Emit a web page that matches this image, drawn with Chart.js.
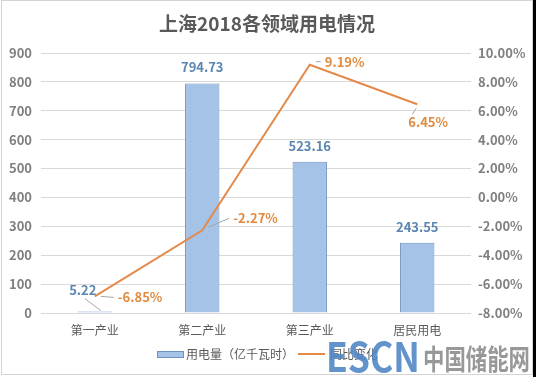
<!DOCTYPE html>
<html>
<head>
<meta charset="utf-8">
<script src="https://cdn.jsdelivr.net/npm/chart.js@4"></script>
<style>
  html, body { margin: 0; padding: 0; background: #000; }
  #chart { display: block; background: #fff; }
</style>
</head>
<body>
<canvas id="chart" width="533" height="377"></canvas>
<script>
// data
const categories = ['第一产业', '第二产业', '第三产业', '居民用电'];
const usage = [5.22, 794.73, 523.16, 243.55];      // 用电量（亿千瓦时）
const yoyChange = [-6.85, -2.27, 9.19, 6.45];      // 同比变化 (%)
const leftTicks = { min: 0, max: 900, step: 100 };
const rightTicks = { min: -8, max: 10, step: 2 };

const FONT = "'Noto Sans CJK SC', 'Noto Sans', sans-serif";
const BAR_LABEL_COLOR = '#5a86b0';
const LINE_COLOR = '#e38a4b';
const LINE_LABEL_COLOR = '#df8a3e';
const LEADER_COLOR = '#a6a6a6';

// label nudges (dx, dy) relative to the default spot
const barLabelNudge = [[-12, -5], [0, 0], [0, 0], [0, 0]];
const lineLabelNudge = [[23, 1], [31, -12], [15, -3], [-9, 18]];

// light-to-mid blue, per bar
function barGradient(ctx) {
    const el = ctx.element;
    if (!el || ctx.type !== 'data' || el.base === undefined) return '#a4c3e7';
    const g = ctx.chart.ctx.createLinearGradient(0, el.y, 0, el.base);
    g.addColorStop(0, '#afcbec');
    g.addColorStop(1, '#93b6e0');
    return g;
}

const labelPlugin = {
    id: 'labels',
    afterDatasetsDraw(chart) {
        const ctx = chart.ctx;
        ctx.save();
        ctx.textBaseline = 'middle';

        // bar values
        const barMeta = chart.getDatasetMeta(0);
        ctx.font = 'bold 13px ' + FONT;
        ctx.fillStyle = BAR_LABEL_COLOR;
        ctx.textAlign = 'center';
        barMeta.data.forEach((bar, i) => {
            const [dx, dy] = barLabelNudge[i];
            const x = bar.x + dx, y = bar.y - 16 + dy;
            ctx.fillText(usage[i].toFixed(2), x, y);
            if (dx !== 0) {
                ctx.strokeStyle = LEADER_COLOR;
                ctx.lineWidth = 1;
                ctx.beginPath();
                ctx.moveTo(x + 2, y + 8);
                ctx.lineTo(bar.x + 6, bar.y - 1);
                ctx.stroke();
            }
        });

        // line values
        const lineMeta = chart.getDatasetMeta(1);
        ctx.font = 'bold 13px ' + FONT;
        ctx.textAlign = 'left';
        lineMeta.data.forEach((pt, i) => {
            const [dx, dy] = lineLabelNudge[i];
            const x = pt.x + dx, y = pt.y + dy;
            ctx.fillStyle = LINE_LABEL_COLOR;
            ctx.fillText(yoyChange[i].toFixed(2) + '%', x, y);
            ctx.strokeStyle = LEADER_COLOR;
            ctx.lineWidth = 1;
            ctx.beginPath();
            if (dx > 0) {
                ctx.moveTo(pt.x + 6, pt.y + (dy < 0 ? -3 : 0));
                ctx.lineTo(x - 4, y);
            } else {
                ctx.moveTo(pt.x - 1, pt.y + 4);
                ctx.lineTo(x + 4, y - 8);
            }
            ctx.stroke();
        });
        ctx.restore();
    },
    afterDraw(chart) {
        const ctx = chart.ctx;
        ctx.save();

        // frame
        ctx.strokeStyle = '#d4d4d4';
        ctx.lineWidth = 1;
        ctx.strokeRect(1.5, 0.5, 531, 374);

        // title
        ctx.font = 'bold 19px ' + FONT;
        ctx.fillStyle = '#595959';
        ctx.textAlign = 'center';
        ctx.textBaseline = 'middle';
        ctx.fillText('上海2018各领域用电情况', 267, 24);

        // legend
        const ly = 354;
        ctx.fillStyle = '#a4c3e7';
        ctx.fillRect(157, ly - 3, 26, 7);
        ctx.strokeStyle = '#6f93c0';
        ctx.strokeRect(157.5, ly - 2.5, 26, 6);
        ctx.font = '12px ' + FONT;
        ctx.fillStyle = '#595959';
        ctx.textAlign = 'left';
        ctx.fillText('用电量（亿千瓦时）', 186, ly);
        ctx.strokeStyle = LINE_COLOR;
        ctx.lineWidth = 2;
        ctx.beginPath();
        ctx.moveTo(298, ly);
        ctx.lineTo(325, ly);
        ctx.stroke();
        ctx.fillText('同比变化', 330, ly);

        // watermark
        ctx.globalAlpha = 0.88;
        ctx.textBaseline = 'alphabetic';
        ctx.font = 'bold 40px ' + FONT;
        ctx.fillStyle = '#4d84c4';
        ctx.fillText('ESCN', 326, 372, 94);
        ctx.font = 'bold 28px ' + FONT;
        ctx.fillStyle = '#8a8a8a';
        ctx.fillText('中国储能网', 423, 370, 107);
        ctx.restore();
    }
};

new Chart(document.getElementById('chart'), {
    data: {
        labels: categories,
        datasets: [
            {
                type: 'bar',
                label: '用电量（亿千瓦时）',
                data: usage,
                yAxisID: 'y',
                backgroundColor: barGradient,
                borderColor: '#6f93c0',
                borderWidth: 1,
                barPercentage: 0.32,
                categoryPercentage: 1,
                order: 2
            },
            {
                type: 'line',
                label: '同比变化',
                data: yoyChange,
                yAxisID: 'y1',
                borderColor: LINE_COLOR,
                borderWidth: 2,
                pointRadius: 0,
                tension: 0,
                fill: false,
                order: 1
            }
        ]
    },
    options: {
        responsive: false,
        animation: false,
        devicePixelRatio: 1,
        layout: { padding: { top: 53, bottom: 34, left: 0, right: 0 } },
        plugins: {
            legend: { display: false },
            title: { display: false },
            tooltip: { enabled: false }
        },
        scales: {
            x: {
                offset: true,
                grid: { display: false },
                border: { display: false },
                ticks: { color: '#595959', font: { family: FONT, size: 12 }, padding: 2 },
                afterFit: s => { s.height = 30; }
            },
            y: {
                position: 'left',
                min: leftTicks.min,
                max: leftTicks.max,
                ticks: { stepSize: leftTicks.step, color: '#7f7f7f', padding: 9, font: { family: FONT, size: 13, weight: 'bold' } },
                grid: { color: '#d9d9d9', drawTicks: false },
                border: { display: false },
                afterFit: s => { s.width = 41; }
            },
            y1: {
                position: 'right',
                min: rightTicks.min,
                max: rightTicks.max,
                ticks: {
                    stepSize: rightTicks.step,
                    color: '#7f7f7f',
                    padding: 7,
                    font: { family: FONT, size: 13, weight: 'bold' },
                    callback: v => v.toFixed(2) + '%'
                },
                grid: { drawOnChartArea: false, drawTicks: false },
                border: { display: false },
                afterFit: s => { s.width = 62; }
            }
        }
    },
    plugins: [labelPlugin]
});
</script>
</body>
</html>
